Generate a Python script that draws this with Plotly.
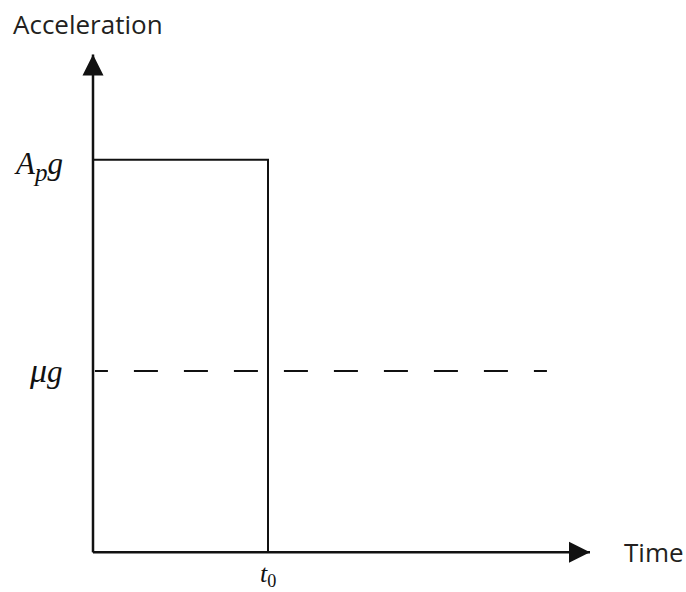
import plotly.graph_objects as go

# Data (normalised units: t0 = 1, A_p*g = 1)
pulse_t = [0, 0, 1.0, 1.0]
pulse_a = [0, 1.0, 1.0, 0]
mu_t = [0.011, 2.623]
mu_a = [0.462, 0.462]
axis_x_t = [0, 2.84]
axis_x_a = [0, 0]
axis_y_t = [0, 0]
axis_y_a = [0, 1.268]
tick_labels_y = ["<i>A<sub><span style='font-size:25px'>p</span></sub>g</i>",
                 "<i><span style='font-size:34px'>μ</span>g</i>"]
tick_vals_y = [1.0, 0.462]
tick_shift_y = [-6, 0]
tick_label_x = "<i>t</i><sub>0</sub>"
tick_val_x = 1.0

BLACK = "#111111"
fig = go.Figure()

fig.add_trace(go.Scatter(x=mu_t, y=mu_a, mode="lines",
                         line=dict(color=BLACK, width=2,
                                   dash="13px,26px" + ",24px,26px" * 8 + ",13px,400px"),
                         hoverinfo="skip", showlegend=False))
fig.add_trace(go.Scatter(x=pulse_t, y=pulse_a, mode="lines",
                         line=dict(color=BLACK, width=2),
                         hoverinfo="skip", showlegend=False))
fig.add_trace(go.Scatter(x=axis_x_t, y=axis_x_a, mode="lines",
                         line=dict(color=BLACK, width=2.5),
                         hoverinfo="skip", showlegend=False))
fig.add_trace(go.Scatter(x=axis_y_t, y=axis_y_a, mode="lines",
                         line=dict(color=BLACK, width=2.5),
                         hoverinfo="skip", showlegend=False))
# arrow heads
fig.add_trace(go.Scatter(x=[axis_x_t[-1]], y=[0], mode="markers",
                         marker=dict(symbol="arrow-right", size=21, color=BLACK,
                                     line=dict(width=0)),
                         cliponaxis=False, hoverinfo="skip", showlegend=False))
fig.add_trace(go.Scatter(x=[0], y=[axis_y_a[-1]], mode="markers",
                         marker=dict(symbol="arrow-up", size=21, color=BLACK,
                                     line=dict(width=0)),
                         cliponaxis=False, hoverinfo="skip", showlegend=False))

serif = dict(family="Liberation Serif", size=31, color=BLACK)
for txt, val, sh in zip(tick_labels_y, tick_vals_y, tick_shift_y):
    fig.add_annotation(x=0, y=val, xref="x", yref="y", text=txt, showarrow=False,
                       xanchor="right", yanchor="middle", xshift=-28, yshift=sh,
                       font=serif)
fig.add_annotation(x=tick_val_x, y=0, xref="x", yref="y", text=tick_label_x,
                   showarrow=False, xanchor="center", yanchor="middle", yshift=-23,
                   font=dict(family="Liberation Serif", size=26, color=BLACK))

sans = dict(family="Open Sans", size=26, color="#231f20")
# plot area: l=58, t=42.4, width 560, height 529.2 (bottom at 571.6)
fig.add_annotation(x=(88 - 58) / 560, y=(571.6 - 24) / 529.2, xref="paper", yref="paper",
                   text="Acceleration", showarrow=False, xanchor="center",
                   yanchor="middle", font=sans)
fig.add_annotation(x=axis_x_t[-1], y=0, xref="x", yref="y", text="Time",
                   showarrow=False, xanchor="left", yanchor="middle", xshift=32,
                   font=sans)

fig.update_layout(
    width=686, height=592,
    margin=dict(l=58, r=68, t=42.4, b=20.4, pad=0),
    paper_bgcolor="white", plot_bgcolor="white",
    xaxis=dict(range=[-0.2, 3.0], visible=False, fixedrange=True),
    yaxis=dict(range=[-0.05, 1.3], visible=False, fixedrange=True),
    showlegend=False,
)

fig.write_html("out.html",
               config={"displayModeBar": False, "staticPlot": True},
               post_script="document.body.style.margin='0';"
                           "document.body.style.overflow='hidden';")
